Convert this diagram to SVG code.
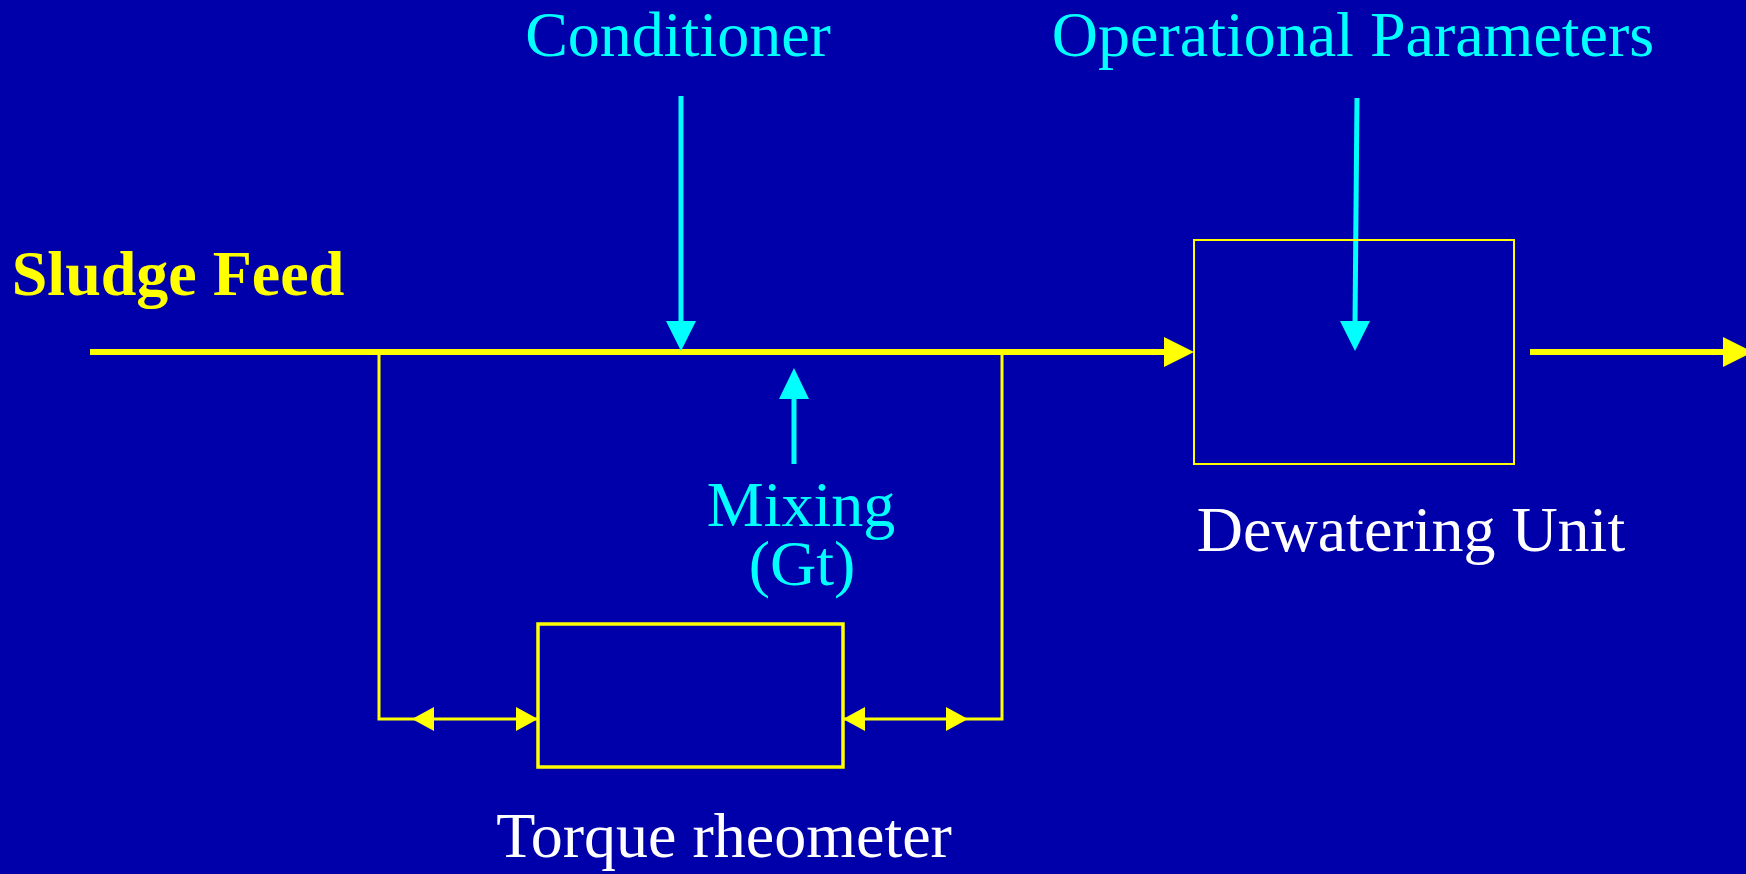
<svg xmlns="http://www.w3.org/2000/svg" width="1746" height="874" viewBox="0 0 1746 874">
<style>
.t{font-family:"Liberation Serif","Times New Roman",serif;font-size:64px;text-anchor:middle}
.cy{fill:#00FFFF}
.wh{fill:#FFFFFF}
.ye{fill:#FFFF00}
.yl{stroke:#FFFF00;fill:none}
.cl{stroke:#00FFFF;fill:none;stroke-width:5}
.yh{fill:#FFFF00}
.ch{fill:#00FFFF}
</style>
<rect x="0" y="0" width="1746" height="874" fill="#0000AA"/>
<g id="connectors">
<line class="yl" x1="90" y1="352" x2="1166" y2="352" stroke-width="6"/>
<polygon class="yh" points="1164,337 1194,352 1164,367"/>
<line class="yl" x1="1530" y1="352" x2="1725" y2="352" stroke-width="6"/>
<polygon class="yh" points="1723,337 1753,352 1723,367"/>
<polyline class="yl" stroke-width="3" points="379,352 379,719 538,719"/>
<polyline class="yl" stroke-width="3" points="1002,352 1002,719 843,719"/>
<polygon class="yh" points="412,719 434,707 434,731"/>
<polygon class="yh" points="538,719 516,707 516,731"/>
<polygon class="yh" points="843,719 865,707 865,731"/>
<polygon class="yh" points="968,719 946,707 946,731"/>
<line class="cl" x1="681" y1="96" x2="681" y2="325"/>
<polygon class="ch" points="666,321 696,321 681,351"/>
<line class="cl" x1="1357" y1="98" x2="1355" y2="325"/>
<polygon class="ch" points="1340,321 1370,321 1355,351"/>
<line class="cl" x1="794" y1="464" x2="794" y2="395"/>
<polygon class="ch" points="779,399 809,399 794,368"/>
</g>
<g id="sludge-feed"><text class="t ye" x="178" y="295" font-weight="bold">Sludge Feed</text></g>
<g id="conditioner"><text class="t cy" x="678" y="56">Conditioner</text></g>
<g id="operational-parameters"><text class="t cy" x="1353" y="56">Operational Parameters</text></g>
<g id="mixing"><text class="t cy" x="801" y="526">Mixing</text><text class="t cy" x="802" y="585">(Gt)</text></g>
<g id="dewatering-unit">
<rect x="1194" y="240" width="320" height="224" fill="none" stroke="#FFFF00" stroke-width="2"/>
<text class="t wh" x="1411" y="551">Dewatering Unit</text>
</g>
<g id="torque-rheometer">
<rect x="538" y="624" width="305" height="143" fill="none" stroke="#FFFF00" stroke-width="3.5"/>
<text class="t wh" x="724" y="857">Torque rheometer</text>
</g>
</svg>
